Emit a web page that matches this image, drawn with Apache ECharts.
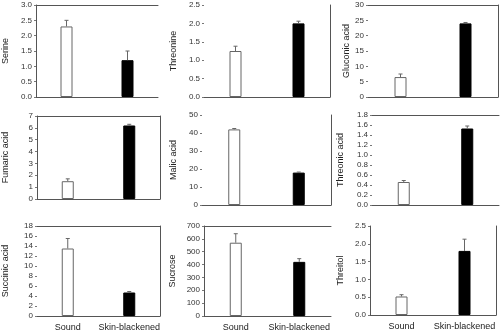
<!DOCTYPE html>
<html><head><meta charset="utf-8">
<script src="https://cdn.jsdelivr.net/npm/echarts@6/dist/echarts.min.js"></script>
<style>html,body{margin:0;padding:0;background:#fff}#c{width:500px;height:332px}</style>
</head><body><div id="c"></div>
<script>
const categories = ['Sound', 'Skin-blackened'];
const compounds = ['Serine','Threonine','Gluconic acid','Fumaric acid','Malic acid','Threonic acid','Succinic acid','Sucrose','Threitol'];
const soundValues = [2.3, 1.25, 6.5, 1.5, 42, 0.46, 13.5, 570, 0.52];
const soundErrors = [0.2, 0.13, 1.0, 0.2, 0.5, 0.03, 2.0, 70, 0.05];
const blackValues = [1.2, 2.0, 24, 6.2, 18, 1.53, 4.7, 421, 1.8];
const blackErrors = [0.3, 0.06, 0.3, 0.1, 0.3, 0.05, 0.2, 25, 0.33];
const yMax = [3, 2.5, 30, 7, 50, 1.8, 18, 700, 2.5];
const yStep = [0.5, 0.5, 5, 1, 10, 0.2, 2, 100, 0.5];
const yDecimals = [1, 1, 0, 0, 0, 1, 0, 0, 1];

// layout / style per panel
const layout = [
  {left:32, top:5, width:126, height:92, gap:26, topLine:true, rightLine:false, leftLine:true},
  {left:204, top:5, width:126, height:92, gap:26, topLine:false, rightLine:true, leftLine:false},
  {left:368, top:5, width:130, height:92, gap:14, topLine:true, rightLine:true, leftLine:false},
  {left:32, top:116, width:128, height:83, gap:27, topLine:true, rightLine:true, leftLine:true},
  {left:202, top:115, width:129, height:90, gap:24, topLine:false, rightLine:true, leftLine:false},
  {left:372, top:115, width:127, height:90, gap:27, topLine:true, rightLine:false, leftLine:false},
  {left:32, top:226, width:128, height:91, gap:27, topLine:true, rightLine:true, leftLine:false},
  {left:204, top:226, width:127, height:91, gap:27, topLine:true, rightLine:false, leftLine:true},
  {left:370, top:226, width:126, height:89, gap:25, topLine:false, rightLine:true, leftLine:true}
];
const lineColor = '#555';
const FONT = 'Liberation Sans, Arial, sans-serif';

const grid = [], xAxis = [], yAxis = [], series = [];
compounds.forEach((name, i) => {
  const L = layout[i];
  const bottomRow = i >= 6;
  grid.push({left:L.left, top:L.top, width:L.width, height:L.height, containLabel:false});
  // main x axis
  xAxis.push({
    gridIndex:i, type:'category', data:categories, position:'bottom',
    axisLine:{show:true, lineStyle:{color:lineColor, width:1}},
    axisTick:{show:false},
    axisLabel:{show:bottomRow, color:'#222', fontSize:9, fontFamily:FONT, margin:7, interval:0}
  });
  const xMainIdx = xAxis.length - 1;
  // top frame line
  xAxis.push({
    gridIndex:i, type:'category', data:categories, position:'top',
    axisLine:{show:L.topLine, onZero:false, lineStyle:{color:lineColor, width:1}},
    axisTick:{show:false}, axisLabel:{show:false}
  });
  yAxis.push({
    gridIndex:i, type:'value', min:0, max:yMax[i], interval:yStep[i],
    name:name, nameLocation:'middle', nameGap:L.gap, nameRotate:90,
    nameTextStyle:{color:'#222', fontSize:9, fontFamily:FONT},
    axisLine:{show:L.leftLine, lineStyle:{color:lineColor, width:1}},
    axisTick:{show:true, length:2, lineStyle:{color:'#777'}},
    axisLabel:{color:'#333', fontSize:8, fontFamily:FONT, margin:4,
      formatter: v => v.toFixed(yDecimals[i])},
    splitLine:{show:false}
  });
  const yMainIdx = yAxis.length - 1;
  yAxis.push({
    gridIndex:i, type:'value', min:0, max:yMax[i], interval:yStep[i], position:'right',
    axisLine:{show:L.rightLine, lineStyle:{color:lineColor, width:1}},
    axisTick:{show:false}, axisLabel:{show:false}, splitLine:{show:false}
  });
  series.push({
    type:'bar', xAxisIndex:xMainIdx, yAxisIndex:yMainIdx, barWidth:12,
    data:[
      {value:soundValues[i], itemStyle:{color:'#fff', borderColor:'#666', borderWidth:1}},
      {value:blackValues[i], itemStyle:{color:'#000', borderColor:'#000', borderWidth:1}}
    ],
    silent:true, animation:false
  });
  series.push({
    type:'custom', xAxisIndex:xMainIdx, yAxisIndex:yMainIdx,
    data:[[0, soundValues[i], soundValues[i] + soundErrors[i]],
          [1, blackValues[i], blackValues[i] + blackErrors[i]]],
    encode:{x:0, y:[1,2]},
    renderItem:(params, api) => {
      const x = api.value(0);
      const lo = api.coord([x, api.value(1)]);
      const hi = api.coord([x, api.value(2)]);
      const st = {stroke:'#666', lineWidth:1};
      return {type:'group', children:[
        {type:'line', shape:{x1:lo[0], y1:lo[1], x2:hi[0], y2:hi[1]}, style:st},
        {type:'line', shape:{x1:hi[0]-2, y1:hi[1], x2:hi[0]+2, y2:hi[1]}, style:st}
      ]};
    },
    silent:true, animation:false, z:3
  });
});

const chart = echarts.init(document.getElementById('c'), null, {renderer:'canvas'});
chart.setOption({backgroundColor:'#fff', animation:false, grid, xAxis, yAxis, series});
</script>
</body></html>
